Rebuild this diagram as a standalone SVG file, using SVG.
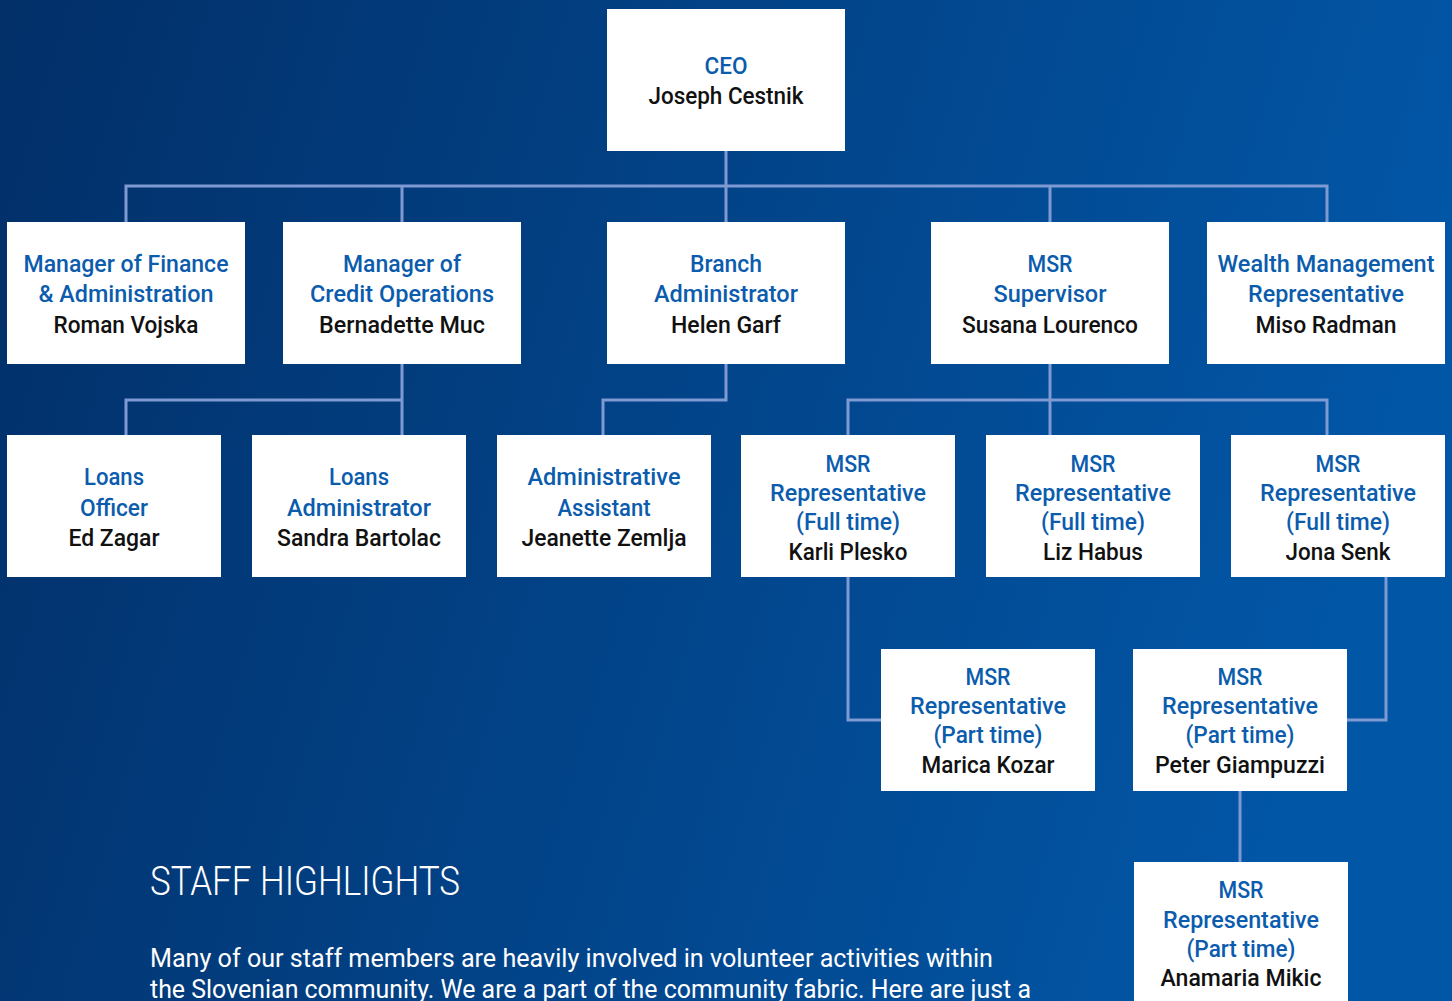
<svg xmlns="http://www.w3.org/2000/svg" width="1452" height="1001" viewBox="0 0 1452 1001">
<defs>
<linearGradient id="bg" x1="0" y1="0" x2="1" y2="0.2">
<stop offset="0" stop-color="#022f68"/>
<stop offset="1" stop-color="#0256a6"/>
</linearGradient>
</defs>
<style>
.box{fill:#ffffff}
.t{font-family:Roboto,"Liberation Sans",sans-serif;font-size:23.5px;font-weight:500;text-anchor:middle;lengthAdjust:spacingAndGlyphs}
.b{fill:#0b5cad}
.n{fill:#111111}
.c{fill:none;stroke:#7f9ad3;stroke-width:3}
.h{font-family:Roboto,"Liberation Sans",sans-serif;fill:#ffffff}
</style>
<rect x="0" y="0" width="1452" height="1001" fill="url(#bg)"/>
<g id="connectors">
<path class="c" d="M726 151V222M126 222V186H1327V222M402 186V222M1050 186V222"/>
<path class="c" d="M402 364V400H126V435M402 400V435"/>
<path class="c" d="M726 364V400H603V435"/>
<path class="c" d="M1050 364V435M848 435V400H1327V435"/>
<path class="c" d="M848 577V720H881"/>
<path class="c" d="M1386 577V720H1347"/>
<path class="c" d="M1240 791V862"/>
</g>
<g id="ceo"><rect class="box" x="607" y="9" width="238" height="142"/>
<text class="t b" x="726" y="74" textLength="43" lengthAdjust="spacingAndGlyphs">CEO</text>
<text class="t n" x="726" y="104" textLength="155" lengthAdjust="spacingAndGlyphs">Joseph Cestnik</text></g>
<g id="finance"><rect class="box" x="7" y="222" width="238" height="142"/>
<text class="t b" x="126" y="272" textLength="205" lengthAdjust="spacingAndGlyphs">Manager of Finance</text>
<text class="t b" x="126" y="302" textLength="175" lengthAdjust="spacingAndGlyphs">&amp; Administration</text>
<text class="t n" x="126" y="333" textLength="145" lengthAdjust="spacingAndGlyphs">Roman Vojska</text></g>
<g id="credit"><rect class="box" x="283" y="222" width="238" height="142"/>
<text class="t b" x="402" y="272" textLength="118" lengthAdjust="spacingAndGlyphs">Manager of</text>
<text class="t b" x="402" y="302" textLength="184" lengthAdjust="spacingAndGlyphs">Credit Operations</text>
<text class="t n" x="402" y="333" textLength="166" lengthAdjust="spacingAndGlyphs">Bernadette Muc</text></g>
<g id="branch"><rect class="box" x="607" y="222" width="238" height="142"/>
<text class="t b" x="726" y="272" textLength="72" lengthAdjust="spacingAndGlyphs">Branch</text>
<text class="t b" x="726" y="302" textLength="144" lengthAdjust="spacingAndGlyphs">Administrator</text>
<text class="t n" x="726" y="333" textLength="110" lengthAdjust="spacingAndGlyphs">Helen Garf</text></g>
<g id="msrsup"><rect class="box" x="931" y="222" width="238" height="142"/>
<text class="t b" x="1050" y="272" textLength="45" lengthAdjust="spacingAndGlyphs">MSR</text>
<text class="t b" x="1050" y="302" textLength="113" lengthAdjust="spacingAndGlyphs">Supervisor</text>
<text class="t n" x="1050" y="333" textLength="176" lengthAdjust="spacingAndGlyphs">Susana Lourenco</text></g>
<g id="wealth"><rect class="box" x="1207" y="222" width="238" height="142"/>
<text class="t b" x="1326" y="272" textLength="217" lengthAdjust="spacingAndGlyphs">Wealth Management</text>
<text class="t b" x="1326" y="302" textLength="156" lengthAdjust="spacingAndGlyphs">Representative</text>
<text class="t n" x="1326" y="333" textLength="141" lengthAdjust="spacingAndGlyphs">Miso Radman</text></g>
<g id="loansofficer"><rect class="box" x="7" y="435" width="214" height="142"/>
<text class="t b" x="114" y="485" textLength="60" lengthAdjust="spacingAndGlyphs">Loans</text>
<text class="t b" x="114" y="516" textLength="68" lengthAdjust="spacingAndGlyphs">Officer</text>
<text class="t n" x="114" y="546" textLength="91" lengthAdjust="spacingAndGlyphs">Ed Zagar</text></g>
<g id="loansadmin"><rect class="box" x="252" y="435" width="214" height="142"/>
<text class="t b" x="359" y="485" textLength="60" lengthAdjust="spacingAndGlyphs">Loans</text>
<text class="t b" x="359" y="516" textLength="144" lengthAdjust="spacingAndGlyphs">Administrator</text>
<text class="t n" x="359" y="546" textLength="164" lengthAdjust="spacingAndGlyphs">Sandra Bartolac</text></g>
<g id="adminassist"><rect class="box" x="497" y="435" width="214" height="142"/>
<text class="t b" x="604" y="485" textLength="153" lengthAdjust="spacingAndGlyphs">Administrative</text>
<text class="t b" x="604" y="516" textLength="93" lengthAdjust="spacingAndGlyphs">Assistant</text>
<text class="t n" x="604" y="546" textLength="165" lengthAdjust="spacingAndGlyphs">Jeanette Zemlja</text></g>
<g id="karli"><rect class="box" x="741" y="435" width="214" height="142"/>
<text class="t b" x="848" y="472" textLength="45" lengthAdjust="spacingAndGlyphs">MSR</text>
<text class="t b" x="848" y="501" textLength="156" lengthAdjust="spacingAndGlyphs">Representative</text>
<text class="t b" x="848" y="530" textLength="104" lengthAdjust="spacingAndGlyphs">(Full time)</text>
<text class="t n" x="848" y="560" textLength="119" lengthAdjust="spacingAndGlyphs">Karli Plesko</text></g>
<g id="liz"><rect class="box" x="986" y="435" width="214" height="142"/>
<text class="t b" x="1093" y="472" textLength="45" lengthAdjust="spacingAndGlyphs">MSR</text>
<text class="t b" x="1093" y="501" textLength="156" lengthAdjust="spacingAndGlyphs">Representative</text>
<text class="t b" x="1093" y="530" textLength="104" lengthAdjust="spacingAndGlyphs">(Full time)</text>
<text class="t n" x="1093" y="560" textLength="100" lengthAdjust="spacingAndGlyphs">Liz Habus</text></g>
<g id="jona"><rect class="box" x="1231" y="435" width="214" height="142"/>
<text class="t b" x="1338" y="472" textLength="45" lengthAdjust="spacingAndGlyphs">MSR</text>
<text class="t b" x="1338" y="501" textLength="156" lengthAdjust="spacingAndGlyphs">Representative</text>
<text class="t b" x="1338" y="530" textLength="104" lengthAdjust="spacingAndGlyphs">(Full time)</text>
<text class="t n" x="1338" y="560" textLength="105" lengthAdjust="spacingAndGlyphs">Jona Senk</text></g>
<g id="marica"><rect class="box" x="881" y="649" width="214" height="142"/>
<text class="t b" x="988" y="685" textLength="45" lengthAdjust="spacingAndGlyphs">MSR</text>
<text class="t b" x="988" y="714" textLength="156" lengthAdjust="spacingAndGlyphs">Representative</text>
<text class="t b" x="988" y="743" textLength="109" lengthAdjust="spacingAndGlyphs">(Part time)</text>
<text class="t n" x="988" y="773" textLength="133" lengthAdjust="spacingAndGlyphs">Marica Kozar</text></g>
<g id="peter"><rect class="box" x="1133" y="649" width="214" height="142"/>
<text class="t b" x="1240" y="685" textLength="45" lengthAdjust="spacingAndGlyphs">MSR</text>
<text class="t b" x="1240" y="714" textLength="156" lengthAdjust="spacingAndGlyphs">Representative</text>
<text class="t b" x="1240" y="743" textLength="109" lengthAdjust="spacingAndGlyphs">(Part time)</text>
<text class="t n" x="1240" y="773" textLength="170" lengthAdjust="spacingAndGlyphs">Peter Giampuzzi</text></g>
<g id="anamaria"><rect class="box" x="1134" y="862" width="214" height="150"/>
<text class="t b" x="1241" y="898" textLength="45" lengthAdjust="spacingAndGlyphs">MSR</text>
<text class="t b" x="1241" y="928" textLength="156" lengthAdjust="spacingAndGlyphs">Representative</text>
<text class="t b" x="1241" y="957" textLength="109" lengthAdjust="spacingAndGlyphs">(Part time)</text>
<text class="t n" x="1241" y="986" textLength="161" lengthAdjust="spacingAndGlyphs">Anamaria Mikic</text></g>
<g id="highlights">
<text class="h" x="150" y="895" font-size="40" font-weight="300" textLength="310" lengthAdjust="spacingAndGlyphs">STAFF HIGHLIGHTS</text>
<text class="h" x="150" y="967" font-size="26" textLength="843" lengthAdjust="spacingAndGlyphs">Many of our staff members are heavily involved in volunteer activities within</text>
<text class="h" x="150" y="998" font-size="26" textLength="881" lengthAdjust="spacingAndGlyphs">the Slovenian community. We are a part of the community fabric. Here are just a</text>
</g>
</svg>
